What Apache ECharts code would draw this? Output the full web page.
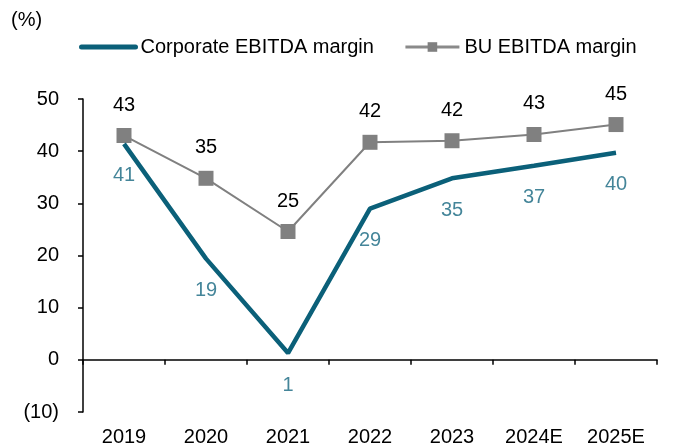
<!DOCTYPE html>
<html>
<head>
<meta charset="utf-8">
<script src="https://cdn.jsdelivr.net/npm/echarts@6/dist/echarts.min.js"></script>
<style>
  html, body { margin: 0; padding: 0; background: #fff; }
  #chart { width: 673px; height: 448px; }
</style>
</head>
<body>
<div id="chart"></div>
<script>
const years = ['2019', '2020', '2021', '2022', '2023', '2024E', '2025E'];
const corporateMargin = [41.4, 19.4, 1.3, 29, 34.8, 37.2, 39.7];
const buMargin = [43, 34.8, 24.6, 41.7, 42, 43.2, 45.1];

const teal = '#0b6079';
const grey = '#808080';
const font = 'Arial, "Liberation Sans", sans-serif';
const fs = 20;

let chart = echarts.init(document.getElementById('chart'));

let option = {
  animation: false,
  textStyle: { fontFamily: font },
  graphic: [{
    type: 'text',
    left: 11,
    top: 10,
    style: { text: '(%)', font: fs + 'px ' + font, fill: '#000' }
  }],
  legend: {
    left: 74,
    top: 32,
    itemWidth: 54,
    itemHeight: 12,
    itemGap: 30,
    textStyle: { fontSize: fs, color: '#000', fontFamily: font },
    data: [{
      name: 'Corporate EBITDA margin',
      itemStyle: { opacity: 0 },
      lineStyle: { width: 5, cap: 'round', color: teal }
    }, {
      name: 'BU EBITDA margin',
      lineStyle: { width: 3, color: '#8a8a8a' }
    }]
  },
  grid: {
    left: 83,
    right: 16,
    top: 99,
    bottom: 36,
  },
  xAxis: [{
    type: 'category',
    data: years,
    axisLine: { onZero: true, lineStyle: { color: '#000', width: 1.5 } },
    axisTick: { show: true, length: 5, lineStyle: { color: '#000', width: 1.5 } },
    axisLabel: { show: false },
  }, {
    type: 'category',
    data: years,
    position: 'bottom',
    axisLine: { show: false, onZero: false },
    axisTick: { show: false },
    axisLabel: { fontSize: fs, color: '#000', margin: 15, fontFamily: font },
  }],
  yAxis: {
    type: 'value',
    min: -10,
    max: 50,
    interval: 10,
    axisLine: { show: true, lineStyle: { color: '#000', width: 1.5 } },
    axisTick: { show: true, length: 5, lineStyle: { color: '#000', width: 1.5 } },
    splitLine: { show: false },
    axisLabel: {
      fontSize: fs,
      color: '#000',
      margin: 24,
      fontFamily: font,
      formatter: function (value) {
        return value < 0 ? '(' + Math.abs(value) + ')' : String(value);
      }
    }
  },
  series: [{
    name: 'Corporate EBITDA margin',
    type: 'line',
    data: corporateMargin,
    symbol: 'none',
    lineStyle: { color: teal, width: 4.5 },
    itemStyle: { color: teal },
    z: 3
  }, {
    // labels for the corporate line (the line itself has no symbols)
    type: 'scatter',
    data: corporateMargin,
    symbolSize: 0,
    silent: true,
    label: {
      show: true,
      position: 'bottom',
      distance: 22,
      fontSize: fs,
      color: '#15667f',
      fontFamily: font,
      formatter: function (p) { return Math.round(p.value); }
    },
    z: 4
  }, {
    name: 'BU EBITDA margin',
    type: 'line',
    data: buMargin,
    symbol: 'rect',
    symbolSize: 15,
    lineStyle: { color: grey, width: 2 },
    itemStyle: { color: grey },
    label: {
      show: true,
      position: 'top',
      distance: 13,
      fontSize: fs,
      color: '#000',
      fontFamily: font,
      formatter: function (p) { return Math.round(p.value); }
    },
    z: 2
  }]
};
chart.setOption(option);
</script>
</body>
</html>
